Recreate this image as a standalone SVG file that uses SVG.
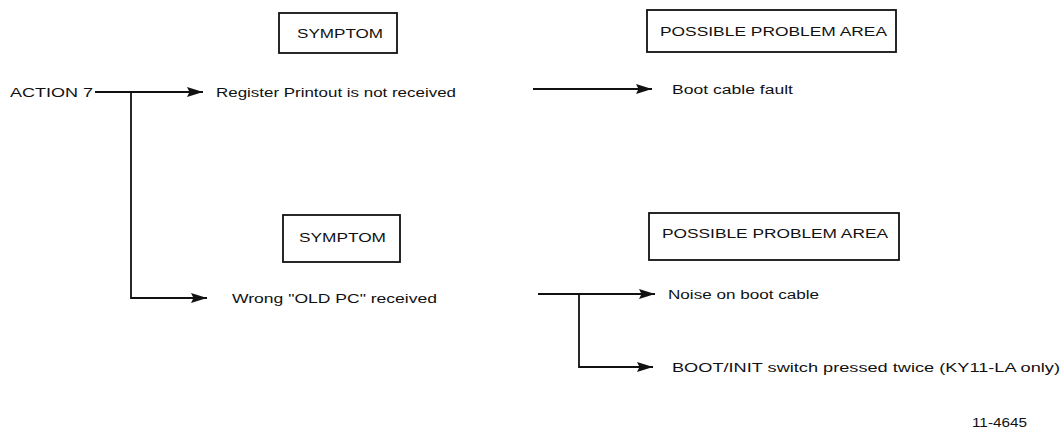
<svg xmlns="http://www.w3.org/2000/svg" width="1064" height="431" viewBox="0 0 1064 431">
<style>
text{font-family:"Liberation Sans",Arial,sans-serif;fill:#111;}
.lbl{font-size:12px;}
.hdr{font-size:12px;}
.box{fill:#fff;stroke:#111;stroke-width:1.8;}
.ln{fill:none;stroke:#111;stroke-width:1.8;}
</style>
<defs>
<marker id="ah" markerUnits="userSpaceOnUse" markerWidth="18" markerHeight="14" refX="16" refY="7" orient="auto">
<polygon points="0,2 16,7 0,12 2.5,7" fill="#111"/>
</marker>
</defs>
<g id="connectors">
<path class="ln" d="M95,92 H203" marker-end="url(#ah)"/>
<path class="ln" d="M131,92 V298 H207" marker-end="url(#ah)"/>
<path class="ln" d="M533,89 H652" marker-end="url(#ah)"/>
<path class="ln" d="M538,294 H655" marker-end="url(#ah)"/>
<path class="ln" d="M579,294 V367 H653" marker-end="url(#ah)"/>
</g>
<g id="action7"><text class="lbl" x="10" y="96.5" textLength="83" lengthAdjust="spacingAndGlyphs">ACTION 7</text></g>
<g id="symptom1">
<rect class="box" x="279" y="13" width="118" height="40"/>
<text class="hdr" x="297" y="37.5" textLength="86" lengthAdjust="spacingAndGlyphs">SYMPTOM</text>
</g>
<g id="problem1">
<rect class="box" x="647" y="10" width="249" height="42"/>
<text class="hdr" x="660" y="36" textLength="227" lengthAdjust="spacingAndGlyphs">POSSIBLE PROBLEM AREA</text>
</g>
<g id="symptom-text1"><text class="lbl" x="216" y="96.5" textLength="240" lengthAdjust="spacingAndGlyphs">Register Printout is not received</text></g>
<g id="problem-text1"><text class="lbl" x="672" y="93.5" textLength="121" lengthAdjust="spacingAndGlyphs">Boot cable fault</text></g>
<g id="symptom2">
<rect class="box" x="283" y="215" width="117" height="47"/>
<text class="hdr" x="299" y="241.5" textLength="87" lengthAdjust="spacingAndGlyphs">SYMPTOM</text>
</g>
<g id="problem2">
<rect class="box" x="649" y="213" width="250" height="47"/>
<text class="hdr" x="662" y="237.5" textLength="226" lengthAdjust="spacingAndGlyphs">POSSIBLE PROBLEM AREA</text>
</g>
<g id="symptom-text2"><text class="lbl" x="232" y="302.5" textLength="205" lengthAdjust="spacingAndGlyphs">Wrong "OLD PC" received</text></g>
<g id="problem-text2a"><text class="lbl" x="668" y="298.5" textLength="151" lengthAdjust="spacingAndGlyphs">Noise on boot cable</text></g>
<g id="problem-text2b"><text class="lbl" x="672" y="371.5" textLength="388" lengthAdjust="spacingAndGlyphs">BOOT/INIT switch pressed twice (KY11-LA only)</text></g>
<g id="figno"><text class="lbl" x="972" y="427" font-size="11" textLength="55" lengthAdjust="spacingAndGlyphs">11-4645</text></g>
</svg>
